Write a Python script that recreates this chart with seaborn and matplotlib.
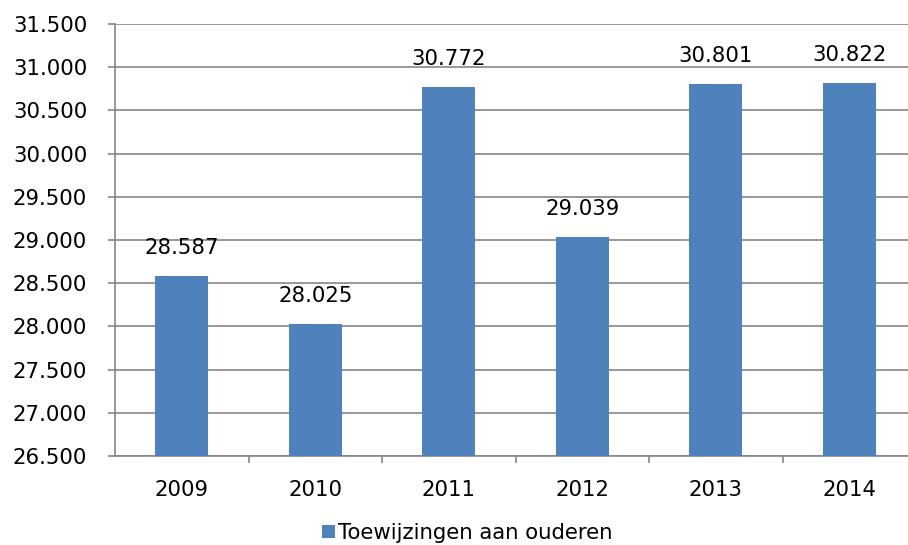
import matplotlib
matplotlib.use("Agg")
import matplotlib.pyplot as plt
import seaborn as sns
import pandas as pd
from matplotlib.ticker import FuncFormatter, MultipleLocator
from matplotlib.patches import Patch

years = ["2009", "2010", "2011", "2012", "2013", "2014"]
values = [28587, 28025, 30772, 29039, 30801, 30822]
series_name = "Toewijzingen aan ouderen"

sns.set_theme(style="white")
plt.rcParams['font.family'] = ['DejaVu Sans']
plt.rcParams['text.color'] = 'black'

df = pd.DataFrame({"jaar": years, "waarde": values})

fig = plt.figure(figsize=(9.08, 5.45), dpi=100)
W, H = 908, 545
ax = fig.add_axes([115 / W, 1 - 456 / H, 801 / W, 432 / H])

color = "#4F81BD"
sns.barplot(data=df, x="jaar", y="waarde", color=color, width=0.4, ax=ax,
            saturation=1, zorder=3, linewidth=0, edgecolor=color)

def fmt(v, pos=None):
    return f"{int(round(v)):,}".replace(",", ".")

ax.set_ylim(26500, 31500)
ax.set_xlim(-0.5, 5.5)
ax.yaxis.set_major_locator(MultipleLocator(500))
ax.yaxis.set_major_formatter(FuncFormatter(fmt))
ax.yaxis.grid(True, color="#868686", linewidth=1.2, zorder=0)
ax.set_axisbelow(True)

for s in ["top", "right"]:
    ax.spines[s].set_visible(False)
for s in ["left", "bottom"]:
    ax.spines[s].set_color("#868686")
    ax.spines[s].set_linewidth(1.2)

ax.set_xticks([i - 0.5 for i in range(1, 6)], minor=True)
ax.tick_params(axis="x", which="major", length=0, pad=17, labelsize=15.3, colors="black")
ax.tick_params(axis="x", which="minor", length=5, width=1.2, color="#868686", direction="out",
               bottom=True)
ax.tick_params(axis="y", length=5, width=1.2, color="#868686", pad=15, labelsize=15.3,
               labelcolor="black", direction="out", left=True)
ax.set_xlabel("")
ax.set_ylabel("")

for cont in ax.containers:
    ax.bar_label(cont, labels=[fmt(v) for v in values], padding=13, fontsize=15.3,
                 color="black")

handle = Patch(facecolor=color, edgecolor="none")
fig.legend([handle], [series_name], loc="center", bbox_to_anchor=(467 / W, 1 - 533 / H),
           frameon=False, fontsize=15.3, handlelength=0.6, handleheight=0.6,
           handletextpad=0.15, labelcolor="black")

fig.savefig("out.png", dpi=100)
